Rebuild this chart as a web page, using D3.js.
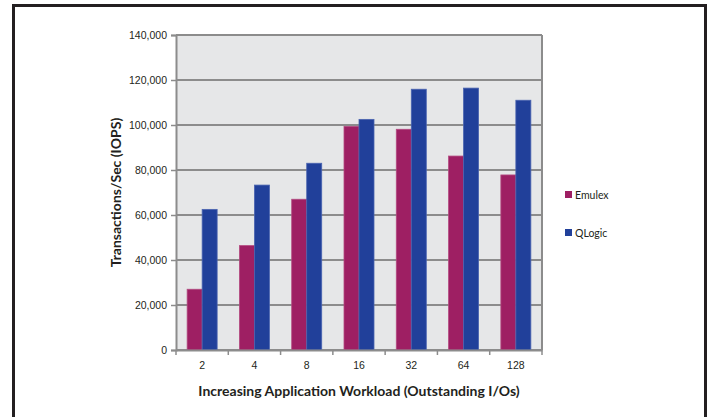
<!DOCTYPE html>
<html>
<head>
<meta charset="utf-8">
<script src="https://cdn.jsdelivr.net/npm/d3@7"></script>
<style>
  body { margin: 0; background: #fff; }
  svg { display: block; font-family: Lato, "Open Sans", sans-serif; }
</style>
</head>
<body>
<svg id="chart" width="709" height="417"></svg>
<script>
var categories = ["2", "4", "8", "16", "32", "64", "128"];
var seriesNames = ["Emulex", "QLogic"];
var emulex = [27000, 46400, 67000, 99400, 98100, 86200, 77800];
var qlogic = [62500, 73300, 83000, 102500, 115900, 116400, 111000];
var yTicks = [0, 20000, 40000, 60000, 80000, 100000, 120000, 140000];
var colors = ["#9e1f63", "#21409a"];

var svg = d3.select("#chart"),
	margin = {top: 35, left: 176},
	width = 366,
	height = 315,
	g = svg.append("g").attr("transform", "translate(" + margin.left + "," + margin.top + ")");

// outer frame (no bottom edge)
svg.append("path")
	.attr("d", "M13.5,417 V5.5 H705.5 V417")
	.attr("fill", "none")
	.attr("stroke", "#231f20")
	.attr("stroke-width", 3);

var x = d3.scaleBand().domain(categories).range([0, width]);
var xs = d3.scaleBand().domain(seriesNames).range([0, 30]);
var y = d3.scaleLinear().domain([0, 140000]).range([height, 0]);

// plot background
g.append("rect")
	.attr("width", width)
	.attr("height", height)
	.attr("fill", "#e6e7e8");

// grid lines
g.selectAll(".grid")
	.data(yTicks)
	.enter().append("line")
	.attr("x1", 0).attr("x2", width)
	.attr("y1", function(d) { return y(d); })
	.attr("y2", function(d) { return y(d); })
	.attr("stroke", "#8c8c8c")
	.attr("stroke-width", 2);

// right border
g.append("line")
	.attr("x1", width).attr("x2", width)
	.attr("y1", 0).attr("y2", height)
	.attr("stroke", "#8c8c8c")
	.attr("stroke-width", 2);

// bars
var series = [emulex, qlogic];
series.forEach(function(vals, si) {
	g.selectAll(".bar" + si)
		.data(vals)
		.enter().append("rect")
		.attr("x", function(d, i) { return x(categories[i]) + (x.bandwidth() - 30) / 2 + xs(seriesNames[si]); })
		.attr("y", function(d) { return y(d); })
		.attr("width", xs.bandwidth())
		.attr("height", function(d) { return height - y(d); })
		.attr("fill", colors[si])
		.attr("stroke", si === 0 ? "#b34a80" : "#4a64b0")
		.attr("stroke-width", 0.8);
});

// Left Axis
var yAxis = g.append("g")
	.call(d3.axisLeft(y).tickValues(yTicks).tickSize(5).tickPadding(4)
		.tickFormat(function(d) { return d === 0 ? "0" : d3.format(",")(d); }));
yAxis.select(".domain").attr("stroke", "#8c8c8c").attr("stroke-width", 2);
yAxis.selectAll(".tick line").attr("stroke", "#8c8c8c").attr("stroke-width", 1.5);
yAxis.selectAll("text").attr("font-size", 10.5).attr("fill", "#231f20");

// Bottom Axis
var xAxis = g.append("g")
	.attr("transform", "translate(0," + height + ")")
	.call(d3.axisBottom(x).tickSize(0).tickPadding(12));
xAxis.select(".domain").attr("stroke", "#8c8c8c").attr("stroke-width", 2);
xAxis.selectAll("text").attr("font-size", 10.5).attr("fill", "#231f20");
xAxis.selectAll(".sep")
	.data(d3.range(categories.length + 1))
	.enter().append("line")
	.attr("x1", function(i) { return i * x.step(); })
	.attr("x2", function(i) { return i * x.step(); })
	.attr("y1", 0).attr("y2", 5)
	.attr("stroke", "#8c8c8c")
	.attr("stroke-width", 1.5);

// axis titles
svg.append("text")
	.attr("x", 359)
	.attr("y", 396)
	.attr("text-anchor", "middle")
	.attr("font-size", 14)
	.attr("font-weight", "bold")
	.attr("fill", "#231f20")
	.text("Increasing Application Workload (Outstanding I/Os)");

svg.append("text")
	.attr("transform", "translate(121," + (margin.top + height / 2) + ") rotate(-90)")
	.attr("text-anchor", "middle")
	.attr("font-size", 14)
	.attr("font-weight", "bold")
	.attr("fill", "#231f20")
	.text("Transactions/Sec (IOPS)");

// legend
var legend = svg.selectAll(".legend")
	.data(seriesNames)
	.enter().append("g")
	.attr("transform", function(d, i) { return "translate(565," + (191 + i * 38) + ")"; });
legend.append("rect")
	.attr("width", 7).attr("height", 7)
	.attr("fill", function(d, i) { return colors[i]; });
legend.append("text")
	.attr("x", 10).attr("y", 7.5)
	.attr("font-size", 10.5)
	.attr("fill", "#231f20")
	.text(function(d) { return d; });
</script>
</body>
</html>
